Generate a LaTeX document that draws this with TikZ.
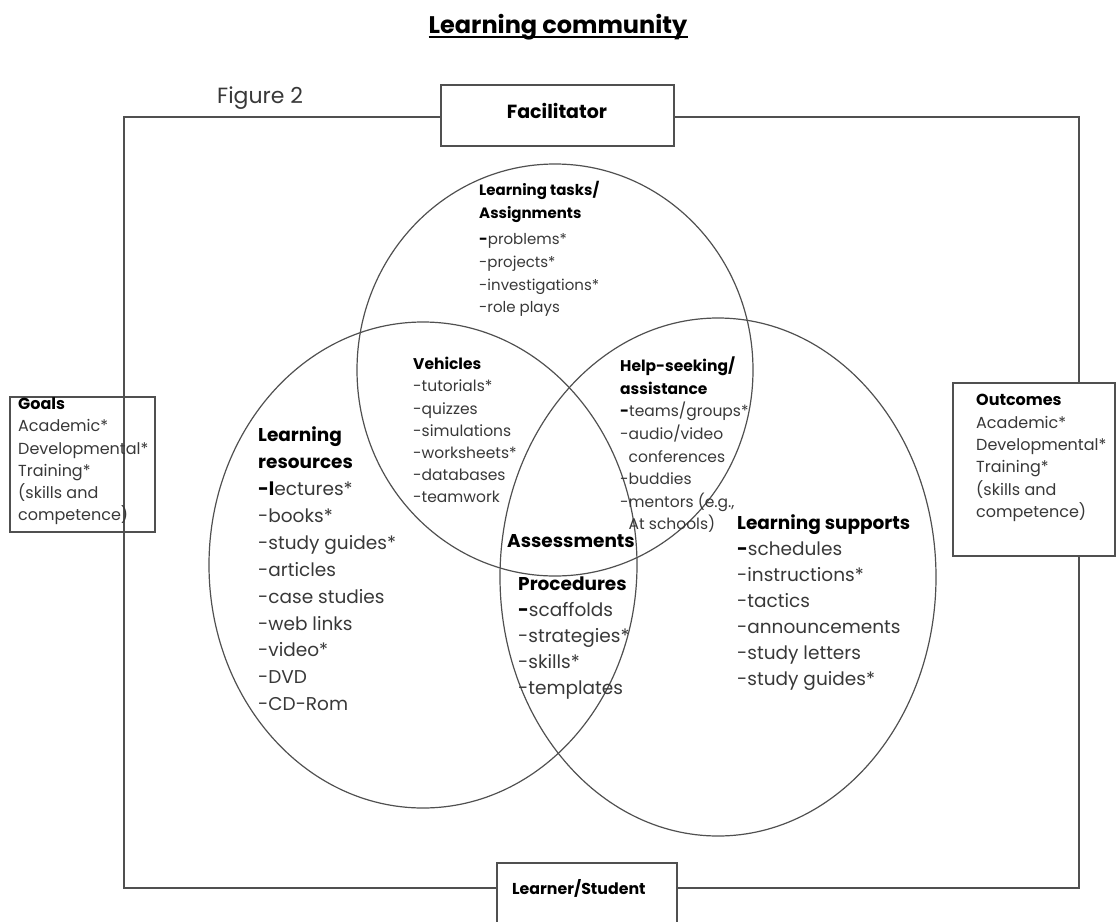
\documentclass[tikz,border=0pt]{standalone}
\usepackage{fontspec}
\setmainfont{Poppins}
\usetikzlibrary{shapes.geometric}
\definecolor{ink}{HTML}{383838}
\definecolor{rule}{HTML}{505050}
\newcommand\hd[1]{{\color{black}\bfseries #1}}
\begin{document}
\begin{tikzpicture}[x=1pt,y=-1pt,
  frame/.style={draw=rule,line width=1.3pt},
  labelbox/.style={frame,fill=white,inner sep=0pt},
  venn/.style={ellipse,draw=rule,line width=1.2pt,inner sep=0pt},
  txt/.style={font=\fontsize{#1}{#1}\selectfont,text=ink,inner sep=0pt,anchor=mid west},
]
\clip (0,0) rectangle (1116,921);

% title
\node[font=\bfseries\fontsize{24}{24}\selectfont,anchor=base,inner sep=0pt] (title) at (558,33) {Learning community};
\draw[line width=1.5pt] ([yshift=-4pt]title.base west) -- ([yshift=-4pt]title.base east);

\node[txt=22,anchor=base west] (fig) at (217,103) {Figure 2};

% outer frame joining the four roles
\draw[frame] (124,117) rectangle (1079,888);

% role boxes
\node[labelbox,minimum width=233pt,minimum height=61pt] (facbox) at (557.5,115.5) {};
\node[txt=19,anchor=center] (fac) at (557,111) {\hd{Facilitator}};

\node[labelbox,minimum width=180pt,minimum height=67pt] (lrnbox) at (587,896.5) {};
\node[txt=15.8] (lrn) at (512,892) {\hd{Learner/Student}};

\draw[frame] (10,397) rectangle (155,532);
\foreach \t [count=\i from 0] in {\hd{Goals},Academic*,Developmental*,Training*,{(skills and},{competence)}}
  \node[txt=16] (goal\i) at (18,407+22.2*\i) {\t};

\node[labelbox,minimum width=162pt,minimum height=173pt] (outbox) at (1034,469.5) {};
\foreach \t [count=\i from 0] in {\hd{Outcomes},Academic*,Developmental*,Training*,{(skills and},{competence)}}
  \node[txt=16] (out\i) at (976,403+22.4*\i) {\t};

% the three sets
\node[venn,minimum width=396pt,minimum height=412pt] (tasks) at (555,370) {};
\node[venn,minimum width=428pt,minimum height=486pt] (resources) at (423,565) {};
\node[venn,minimum width=436pt,minimum height=518pt] (supports) at (718,577) {};

% learning tasks
\foreach \y/\t [count=\i from 0] in {193/{\hd{Learning tasks/}},216/{\hd{Assignments}},242/{\hd{-}problems*},265/{-projects*},288/{-investigations*},310/{-role plays}}
  \node[txt=15] (task\i) at (479,\y) {\t};

% vehicles
\foreach \t [count=\i from 0] in {\hd{Vehicles},-tutorials*,-quizzes,-simulations,-worksheets*,-databases,-teamwork}
  \node[txt=15.5] (veh\i) at (413,367+22.2*\i) {\t};

% help-seeking
\foreach \t [count=\i from 0] in {{\hd{Help-seeking/}},\hd{assistance},{\hd{-}teams/groups*},{-audio/video},\phantom{-}conferences,-buddies,{-mentors (e.g.,},{\phantom{-}At schools)}}
  \node[txt=15.5] (help\i) at (620,369+22.6*\i) {\t};

% learning resources
\foreach \t [count=\i from 0] in {\hd{Learning},\hd{resources},\hd{-l}ectures*,-books*,-study guides*,-articles,-case studies,-web links,-video*,-DVD,-CD-Rom}
  \node[txt=18.5] (res\i) at (258,439+26.9*\i) {\t};

% assessments and procedures
\node[txt=18.5] (assess) at (507,545) {\hd{Assessments}};
\foreach \t [count=\i from 0] in {\hd{Procedures},\hd{-}scaffolds,-strategies*,-skills*,-templates}
  \node[txt=18.5] (proc\i) at (518,588+26*\i) {\t};

% learning supports
\foreach \t [count=\i from 0] in {\hd{Learning supports},\hd{-}schedules,-instructions*,-tactics,-announcements,-study letters,-study guides*}
  \node[txt=18.5] (sup\i) at (737,527+26*\i) {\t};
\end{tikzpicture}
\end{document}
